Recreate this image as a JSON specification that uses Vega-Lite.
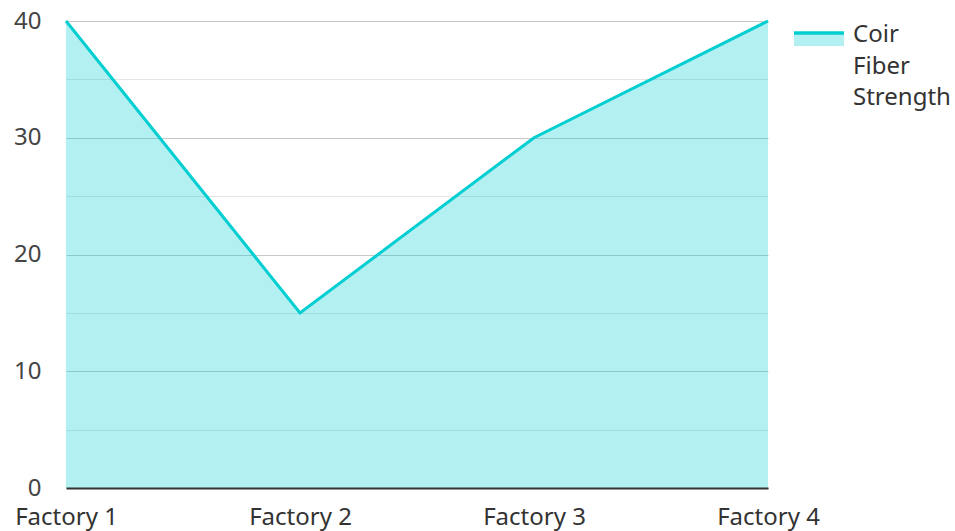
{
  "$schema": "https://vega.github.io/schema/vega-lite/v6.json",
  "width": 702,
  "height": 467,
  "autosize": {"type": "none"},
  "padding": {"left": 66, "top": 21, "right": 187, "bottom": 43},
  "background": "white",
  "config": {"view": {"stroke": null}, "font": "Noto Sans"},
  "data": {
    "values": [
      {"factory": "Factory 1", "strength": 40, "series": "Coir Fiber Strength"},
      {"factory": "Factory 2", "strength": 15, "series": "Coir Fiber Strength"},
      {"factory": "Factory 3", "strength": 30, "series": "Coir Fiber Strength"},
      {"factory": "Factory 4", "strength": 40, "series": "Coir Fiber Strength"}
    ]
  },
  "encoding": {
    "x": {
      "field": "factory",
      "type": "ordinal",
      "scale": {"type": "point", "padding": 0},
      "axis": {
        "title": null,
        "labelAngle": 0,
        "ticks": false,
        "grid": false,
        "domainColor": "#333333",
        "domainWidth": 2,
        "labelFontSize": 24,
        "labelFont": "Noto Sans",
        "labelColor": "#333333",
        "labelPadding": 17,
        "zindex": 1
      }
    },
    "y": {
      "field": "strength",
      "type": "quantitative",
      "scale": {"domain": [0, 40], "nice": false},
      "axis": {
        "title": null,
        "values": [0, 5, 10, 15, 20, 25, 30, 35, 40],
        "labelExpr": "datum.value % 10 === 0 ? datum.label : ''",
        "ticks": false,
        "domain": false,
        "labelFontSize": 24,
        "labelFont": "Noto Sans",
        "labelColor": "#444444",
        "labelPadding": 25,
        "gridColor": {"condition": {"test": "datum.value % 10 === 0", "value": "#c8c8c8"}, "value": "#e4e4e4"},
        "gridWidth": 1.2
      }
    }
  },
  "layer": [
    {
      "mark": {"type": "area", "fillOpacity": 0.3},
      "encoding": {
        "color": {
          "field": "series",
          "type": "nominal",
          "scale": {"range": ["#00CED1"]},
          "legend": {
            "title": null,
            "offset": 18,
            "padding": 0,
            "labelFontSize": 24,
            "labelFont": "Noto Sans",
            "labelColor": "#333333",
            "labelExpr": "split(datum.label, ' ')",
            "labelBaseline": "top",
            "labelOffset": 7,
            "symbolSize": 2500,
            "symbolType": "M-1,-0.6L1,-0.6L1,-0.08L-1,-0.08Z",
            "encode": {
              "symbols": {
                "update": {
                  "fill": {"value": "#00CED1"},
                  "fillOpacity": {"value": 0.3},
                  "stroke": {"value": "#00CED1"},
                  "strokeWidth": {"value": 3.5},
                  "strokeDash": {"value": [50, 1000]},
                  "opacity": {"value": 1}
                }
              },
              "labels": {
                "update": {
                  "dy": {"value": -25},
                  "lineHeight": {"value": 31.5}
                }
              }
            }
          }
        }
      }
    },
    {
      "mark": {"type": "line", "strokeWidth": 3},
      "encoding": {
        "color": {"field": "series", "type": "nominal"}
      }
    }
  ]
}
